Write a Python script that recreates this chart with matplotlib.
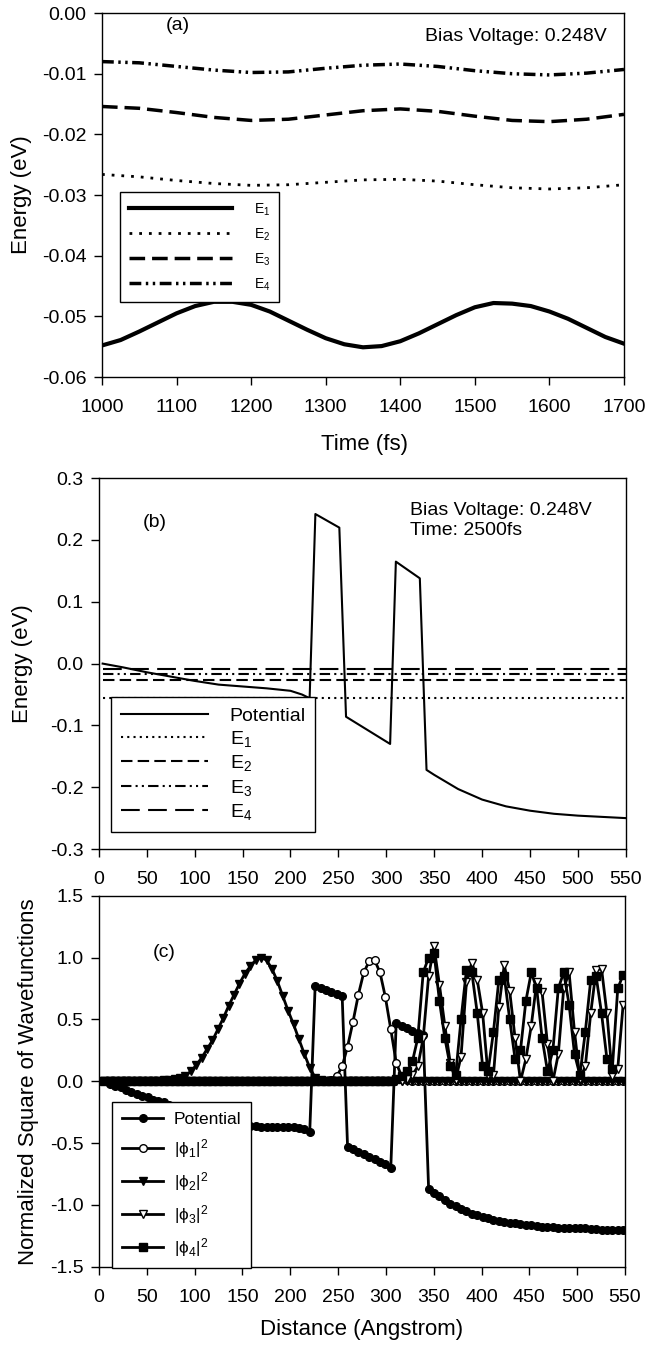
import numpy as np
import matplotlib
matplotlib.use("Agg")
import matplotlib.pyplot as plt
from matplotlib.ticker import FormatStrFormatter

plt.rcParams['font.family'] = ['Liberation Sans', 'DejaVu Sans']
plt.rcParams['mathtext.fontset'] = 'custom'
plt.rcParams['mathtext.rm'] = 'Liberation Sans'
plt.rcParams['mathtext.it'] = 'Liberation Sans:italic'
plt.rcParams['axes.unicode_minus'] = False

# ---- panel (a): energy levels vs time ----
t_e1 = [1000, 1025, 1050, 1075, 1100, 1125, 1150, 1175, 1200, 1225, 1250, 1275, 1300, 1325, 1350,
        1375, 1400, 1425, 1450, 1475, 1500, 1525, 1550, 1575, 1600, 1625, 1650, 1675, 1700]
e1 = [-0.0548, -0.0539, -0.0525, -0.0510, -0.0495, -0.0483, -0.0476, -0.0476, -0.0481, -0.0492,
      -0.0507, -0.0522, -0.0536, -0.0546, -0.0551, -0.0549, -0.0541, -0.0528, -0.0513, -0.0498,
      -0.0485, -0.0478, -0.0479, -0.0483, -0.0492, -0.0504, -0.0519, -0.0534, -0.0545]
t_e = [1000, 1050, 1100, 1150, 1200, 1250, 1300, 1350, 1400, 1450, 1500, 1550, 1600, 1650, 1700]
e2 = [-0.0266, -0.0270, -0.0276, -0.0281, -0.0284, -0.0283, -0.0279, -0.0275, -0.0274, -0.0277,
      -0.0283, -0.0288, -0.0290, -0.0288, -0.0283]
e3 = [-0.0154, -0.0157, -0.0164, -0.0172, -0.0177, -0.0175, -0.0168, -0.0161, -0.0158, -0.0162,
      -0.0170, -0.0177, -0.0179, -0.0175, -0.0167]
e4 = [-0.0080, -0.0082, -0.0088, -0.0094, -0.0098, -0.0097, -0.0091, -0.0086, -0.0084, -0.0088,
      -0.0095, -0.0100, -0.0102, -0.0099, -0.0093]

# ---- panel (b): potential profile and levels at 2500 fs ----
xb = [4, 25, 50, 75, 100, 125, 150, 175, 200, 212, 220, 226, 251, 258, 304, 310, 335, 342,
      350, 375, 400, 425, 450, 475, 500, 525, 550]
pot_b = [0.0, -0.006, -0.014, -0.021, -0.028, -0.034, -0.037, -0.040, -0.044, -0.050, -0.056,
         0.242, 0.220, -0.086, -0.130, 0.165, 0.138, -0.172,
         -0.180, -0.203, -0.220, -0.231, -0.238, -0.243, -0.246, -0.248, -0.250]
level_x = [4, 550]
levels_b = [-0.055, -0.027, -0.017, -0.0092]   # E1..E4

# ---- panel (c): normalized potential and |phi|^2 ----
xc = np.arange(1, 98) * 5.65
pot_c = [0.00, -0.02, -0.04, -0.05, -0.07, -0.09, -0.10, -0.12, -0.13, -0.15,
         -0.16, -0.17, -0.19, -0.21, -0.22, -0.24, -0.25, -0.27, -0.28, -0.30,
         -0.31, -0.32, -0.33, -0.34, -0.35, -0.355, -0.36, -0.36, -0.365, -0.37,
         -0.37, -0.37, -0.37, -0.37, -0.37, -0.37, -0.375, -0.385, -0.41, 0.77,
         0.75, 0.735, 0.72, 0.705, 0.69, -0.53, -0.55, -0.57, -0.59, -0.61,
         -0.63, -0.65, -0.67, -0.70, 0.47, 0.45, 0.43, 0.41, 0.39, 0.37,
         -0.87, -0.90, -0.93, -0.96, -0.99, -1.01, -1.03, -1.05, -1.07, -1.085,
         -1.10, -1.11, -1.12, -1.13, -1.14, -1.145, -1.15, -1.155, -1.16, -1.165,
         -1.17, -1.175, -1.18, -1.18, -1.185, -1.19, -1.19, -1.19, -1.19, -1.19,
         -1.195, -1.195, -1.2, -1.2, -1.2, -1.2, -1.2]
phi1 = [0.0] * 42 + [0.01, 0.04, 0.12, 0.28, 0.48, 0.70, 0.88, 0.97, 0.98, 0.88, 0.68, 0.42,
                     0.15, 0.04, 0.01] + [0.0] * 40
phi2 = [0.0] * 9 + [0.003, 0.005, 0.008, 0.013, 0.02, 0.03, 0.045, 0.08, 0.13, 0.19, 0.26,
                    0.33, 0.42, 0.51, 0.61, 0.70, 0.79, 0.87, 0.93, 0.98, 1.00, 0.98, 0.91,
                    0.81, 0.69, 0.57, 0.46, 0.34, 0.22, 0.11, 0.03, 0.01] + [0.0] * 56
phi3 = [0.0] * 56 + [0.02, 0.05, 0.12, 0.35, 0.85, 1.09, 0.78, 0.45, 0.15, 0.01, 0.20, 0.80,
                     0.96, 0.82, 0.55, 0.05, 0.05, 0.60, 0.94, 0.73, 0.35, 0.0, 0.18, 0.45,
                     0.80, 0.72, 0.30, 0.0, 0.22, 0.75, 0.88, 0.40, 0.02, 0.12, 0.55, 0.90,
                     0.91, 0.55, 0.04, 0.10, 0.62]
phi4 = [0.0] * 54 + [0.02, 0.04, 0.08, 0.16, 0.35, 0.88, 1.0, 1.04, 0.65, 0.35, 0.12, 0.05,
                     0.50, 0.90, 0.88, 0.55, 0.12, 0.08, 0.40, 0.82, 0.85, 0.50, 0.18, 0.25,
                     0.65, 0.88, 0.75, 0.35, 0.08, 0.25, 0.75, 0.88, 0.62, 0.22, 0.05, 0.40,
                     0.82, 0.85, 0.55, 0.18, 0.10, 0.75, 0.86]


def style_axes(ax):
    for sp in ax.spines.values():
        sp.set_linewidth(1.0)
    ax.tick_params(direction='out', length=6, width=1, labelsize=14, top=False, right=False)
    ax.tick_params(axis='x', pad=10)
    ax.tick_params(axis='y', pad=5)


def box_legend(ax, **kw):
    leg = ax.legend(loc='upper left', borderaxespad=0, fancybox=False, edgecolor='k',
                    framealpha=1, **kw)
    leg.get_frame().set_linewidth(1.0)
    return leg


fig = plt.figure(figsize=(6.45, 13.47), dpi=100)

# panel (a)
ax1 = fig.add_axes([0.1581, 0.7201, 0.8093, 0.2702])
ax1.plot(t_e1, e1, color='k', lw=3, solid_joinstyle='round', label=r'$\mathregular{E_1}$')
ax1.plot(t_e, e2, color='k', lw=2, linestyle=(0, (1, 2.5)), label=r'$\mathregular{E_2}$')
ax1.plot(t_e, e3, color='k', lw=2.5, linestyle=(0, (4.5, 2)), label=r'$\mathregular{E_3}$')
ax1.plot(t_e, e4, color='k', lw=2.5, linestyle=(0, (3.4, 1.3, 0.7, 1.3, 0.7, 1.3)),
         label=r'$\mathregular{E_4}$')
ax1.set_xlim(1000, 1700)
ax1.set_ylim(-0.06, 0.0)
ax1.set_xticks(np.arange(1000, 1701, 100))
ax1.set_yticks(np.arange(-0.06, 0.001, 0.01))
ax1.yaxis.set_major_formatter(FormatStrFormatter('%.2f'))
ax1.set_xlabel('Time (fs)', fontsize=16)
ax1.set_ylabel('Energy (eV)', fontsize=16)
ax1.xaxis.set_label_coords(0.502, -0.157)
ax1.yaxis.set_label_coords(-0.134, 0.5)
ax1.text(1102, -0.002, '(a)', fontsize=14, ha='center', va='center')
ax1.text(1677, -0.0039, 'Bias Voltage: 0.248V', fontsize=14, ha='right', va='center')
box_legend(ax1, bbox_to_anchor=(0.034, 0.508), fontsize=10, handlelength=7.4,
           handletextpad=1.6, labelspacing=0.62, borderpad=0.65)
style_axes(ax1)

# panel (b)
ax2 = fig.add_axes([0.1532, 0.3697, 0.8171, 0.2753])
ax2.plot(xb, pot_b, color='k', lw=1.5, label='Potential')
ax2.plot(level_x, [levels_b[0]] * 2, color='k', lw=1.5, linestyle=(0, (1, 2)),
         label=r'$\mathregular{E_1}$')
ax2.plot(level_x, [levels_b[1]] * 2, color='k', lw=1.5, linestyle=(0, (5.5, 2.5)),
         label=r'$\mathregular{E_2}$')
ax2.plot(level_x, [levels_b[2]] * 2, color='k', lw=1.5,
         linestyle=(0, (5, 2, 1, 2, 1, 2)), label=r'$\mathregular{E_3}$')
ax2.plot(level_x, [levels_b[3]] * 2, color='k', lw=1.5, linestyle=(0, (9, 4)),
         label=r'$\mathregular{E_4}$')
ax2.set_xlim(0, 550)
ax2.set_ylim(-0.3, 0.3)
ax2.set_xticks(np.arange(0, 551, 50))
ax2.set_yticks(np.arange(-0.3, 0.31, 0.1))
ax2.yaxis.set_major_formatter(FormatStrFormatter('%.1f'))
ax2.set_ylabel('Energy (eV)', fontsize=16)
ax2.yaxis.set_label_coords(-0.125, 0.5)
ax2.text(58, 0.229, '(b)', fontsize=14, ha='center', va='center')
ax2.text(325, 0.247, 'Bias Voltage: 0.248V', fontsize=14, ha='left', va='center')
ax2.text(325, 0.215, 'Time: 2500fs', fontsize=14, ha='left', va='center')
box_legend(ax2, bbox_to_anchor=(0.023, 0.409), fontsize=14, handlelength=4.5,
           handletextpad=1.1, labelspacing=0.22, borderpad=0.5)
style_axes(ax2)

# panel (c)
ax3 = fig.add_axes([0.1535, 0.0596, 0.8155, 0.2754])
mk = dict(color='k', lw=2, markersize=5.5, markeredgewidth=1)
ax3.plot(xc, pot_c, marker='o', markerfacecolor='k', label='Potential', **mk)
ax3.plot(xc, phi1, marker='o', markerfacecolor='w', label=r'|$\mathregular{\phi_1}$|$^2$', **mk)
ax3.plot(xc, phi2, marker='v', markerfacecolor='k', label=r'|$\mathregular{\phi_2}$|$^2$', **mk)
ax3.plot(xc, phi3, marker='v', markerfacecolor='w', label=r'|$\mathregular{\phi_3}$|$^2$', **mk)
ax3.plot(xc, phi4, marker='s', markerfacecolor='k', label=r'|$\mathregular{\phi_4}$|$^2$', **mk)
ax3.set_xlim(0, 550)
ax3.set_ylim(-1.5, 1.5)
ax3.set_xticks(np.arange(0, 551, 50))
ax3.set_yticks(np.arange(-1.5, 1.51, 0.5))
ax3.yaxis.set_major_formatter(FormatStrFormatter('%.1f'))
ax3.set_xlabel('Distance (Angstrom)', fontsize=16)
ax3.set_ylabel('Normalized Square of Wavefunctions', fontsize=16)
ax3.xaxis.set_label_coords(0.5, -0.14)
ax3.yaxis.set_label_coords(-0.114, 0.5)
ax3.text(68.6, 1.04, '(c)', fontsize=14, ha='center', va='center')
box_legend(ax3, bbox_to_anchor=(0.025, 0.444), fontsize=12.5, handlelength=2.4,
           handletextpad=0.6, labelspacing=0.58, borderpad=0.55, numpoints=1)
style_axes(ax3)

fig.savefig('out.png', dpi=100)
